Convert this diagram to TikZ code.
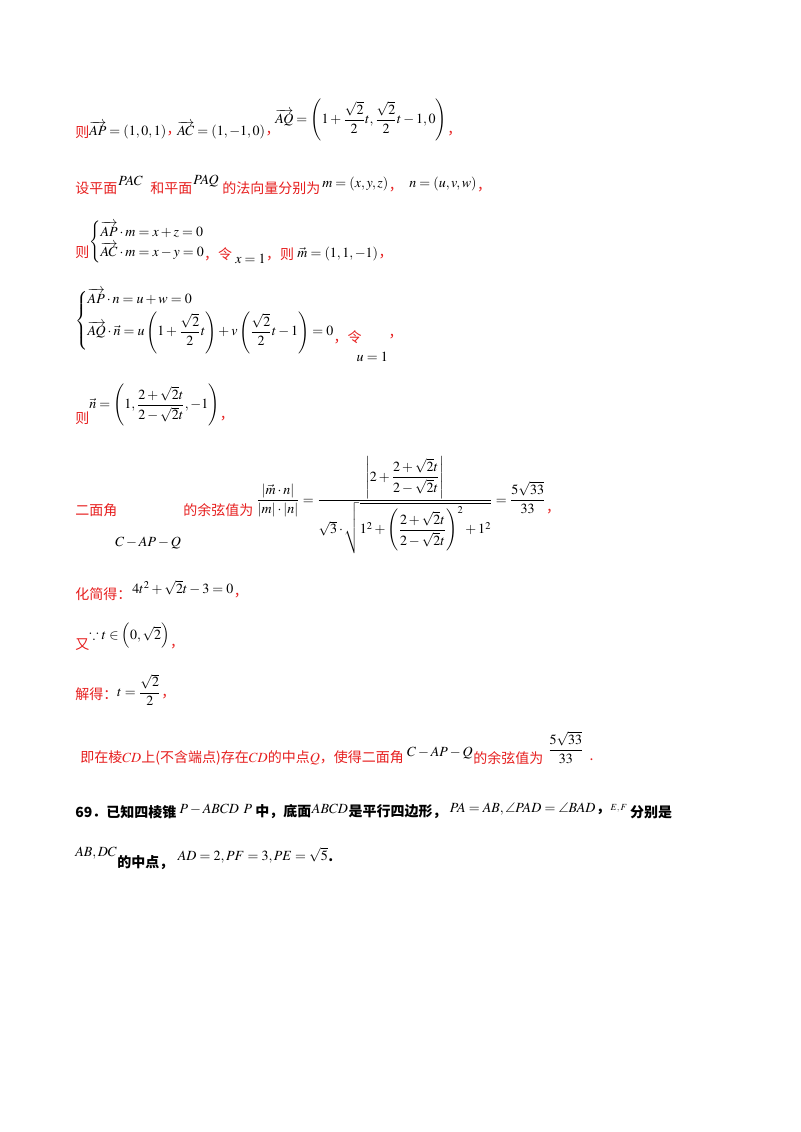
\documentclass[tikz,border=0pt]{standalone}
\usepackage{amsmath,amssymb}
\usepackage{mathptmx}
\usepackage{fontspec}
\newfontfamily\cjk{Noto Sans CJK SC}
\definecolor{rd}{RGB}{230,30,30}
\begin{document}
\begin{tikzpicture}[x=0.75pt,y=-0.75pt,
  t/.style={anchor=west,inner sep=0pt,font=\cjk\fontsize{10.5}{12}\selectfont,text=rd},
  b/.style={anchor=west,inner sep=0pt,font=\cjk\bfseries\fontsize{10.5}{12}\selectfont},
  m/.style={anchor=west,inner sep=0pt,font=\fontsize{10.5}{12}\selectfont}]
\useasboundingbox (0,0) rectangle (800,1132);
% line 1
\node[t] (a1) at (75,132) {则};
\node[m] (a2) at (89,130) {$\overrightarrow{AP}=(1,0,1)$};
\node[t] (a3) at ([yshift=-3pt]a2.east) {，};
\node[m] (a4) at (177,130) {$\overrightarrow{AC}=(1,-1,0)$};
\node[t] (a5) at ([yshift=-3pt]a4.east) {，};
\node[m] (a6) at (275,120) {$\overrightarrow{AQ}=\left(1+\dfrac{\sqrt2}{2}t,\dfrac{\sqrt2}{2}t-1,0\right)$};
\node[t] (a7) at ([yshift=-10pt]a6.east) {，};
% line 2
\node[t] (b1) at (75,188) {设平面};
\node[m] (b2) at (118,181) {$PAC$};
\node[t] (b3) at (150,188) {和平面};
\node[m] (b4) at (193,181) {$PAQ$};
\node[t] (b5) at (222,188) {的法向量分别为};
\node[m] (b6) at (322,184) {$m=(x,y,z)$};
\node[t] (b7) at ([yshift=-4pt]b6.east) {，};
\node[m] (b8) at (409,184) {$n=(u,v,w)$};
\node[t] (b9) at ([yshift=-4pt]b8.east) {，};
% line 3
\node[t] (c1) at (75,252) {则};
\node[m] (c2) at (89,242) {$\begin{cases}\overrightarrow{AP}\cdot m=x+z=0\\ \overrightarrow{AC}\cdot m=x-y=0\end{cases}$};
\node[t] (c3) at ([yshift=-9pt,xshift=-12pt]c2.east) {，令};
\node[m] (c4) at ([xshift=2pt,yshift=-4pt]c3.east) {$x=1$};
\node[t] (c5) at ([yshift=4pt]c4.east) {，则};
\node[m] (c6) at ([xshift=2pt]c5.east) {$\vec m=(1,1,-1)$};
\node[t] (c7) at ([yshift=-2pt]c6.east) {，};
% line 4
\node[m] (d1) at (75,321) {$\begin{cases}\overrightarrow{AP}\cdot n=u+w=0\\[2pt] \overrightarrow{AQ}\cdot \vec n=u\left(1+\dfrac{\sqrt2}{2}t\right)+v\left(\dfrac{\sqrt2}{2}t-1\right)=0\end{cases}$};
\node[t] (d2) at ([yshift=-12pt,xshift=-12pt]d1.east) {，令};
\node[m] (d3) at ([xshift=-4pt,yshift=-15pt]d2.east) {$u=1$};
\node[t] (d4) at ([xshift=20pt]d2.east) {，};
% line 5
\node[t] (e1) at (75,418) {则};
\node[m] (e2) at (89,405) {$\vec n=\left(1,\dfrac{2+\sqrt2 t}{2-\sqrt2 t},-1\right)$};
\node[t] (e3) at ([yshift=-10pt]e2.east) {，};
% line 6
\node[t] (f1) at (75,510) {二面角};
\node[m] (f2) at (115,543) {$C-AP-Q$};
\node[t] (f3) at (183,510) {的余弦值为};
\node[m] (f4) at (256,505) {$\dfrac{|\vec m\cdot n|}{|m|\cdot|n|}=\dfrac{\left|2+\dfrac{2+\sqrt2t}{2-\sqrt2t}\right|}{\sqrt3\cdot\sqrt{1^2+\left(\dfrac{2+\sqrt2t}{2-\sqrt2t}\right)^2+1^2}}=\dfrac{5\sqrt{33}}{33}$};
\node[t] (f5) at ([yshift=-5pt]f4.east) {，};
% line 7
\node[t] (g1) at (75,594) {化简得：};
\node[m] (g2) at (132,588) {$4t^2+\sqrt2t-3=0$};
\node[t] (g3) at ([yshift=-6pt]g2.east) {，};
% line 8
\node[t] (h1) at (75,645) {又};
\node[m] (h2) at (89,636) {$\because t\in\left(0,\sqrt2\right)$};
\node[t] (h3) at ([yshift=-8pt]h2.east) {，};
% line 9
\node[t] (i1) at (75,694) {解得：};
\node[m] (i2) at (117,690) {$t=\dfrac{\sqrt2}{2}$};
\node[t] (i3) at ([yshift=-5pt]i2.east) {，};
% line 10
\node[t] (j1) at (80,758) {即在棱$CD$上(不含端点)存在$CD$的中点$Q$，使得二面角};
\node[m] (j2) at ([xshift=2pt,yshift=4pt]j1.east) {$C-AP-Q$};
\node[t] (j3) at ([yshift=-4pt]j2.east) {的余弦值为};
\node[m] (j4) at ([xshift=3pt,yshift=8pt]j3.east) {$\dfrac{5\sqrt{33}}{33}$};
\node[t] (j5) at ([xshift=4pt,yshift=-9pt]j4.east) {.};
% line 11
\node[b] (k1) at (75,812) {69．已知四棱锥};
\node[m] (k2) at ([xshift=2pt,yshift=2pt]k1.east) {$P-ABCD\ P$};
\node[b] (k3) at ([xshift=2pt,yshift=-2pt]k2.east) {中，底面};
\node[m] (k4) at ([yshift=2pt]k3.east) {$ABCD$};
\node[b] (k5) at ([yshift=-2pt]k4.east) {是平行四边形，};
\node[m] (k6) at ([xshift=2pt,yshift=2pt]k5.east) {$PA=AB,\angle PAD=\angle BAD$};
\node[b] (k7) at ([yshift=-2pt]k6.east) {，};
\node[m] (k8) at ([yshift=3pt]k7.east) {\scriptsize$E,F$};
\node[b] (k9) at ([xshift=2pt,yshift=-3pt]k8.east) {分别是};
\node[m] (l1) at (75,853) {$AB,DC$};
\node[b] (l2) at ([yshift=-7pt]l1.east) {的中点，};
\node[m] (l3) at ([xshift=3pt,yshift=5pt]l2.east) {$AD=2,PF=3,PE=\sqrt5$};
\node[b] (l4) at ([yshift=-3pt]l3.east) {.};
\end{tikzpicture}
\end{document}
